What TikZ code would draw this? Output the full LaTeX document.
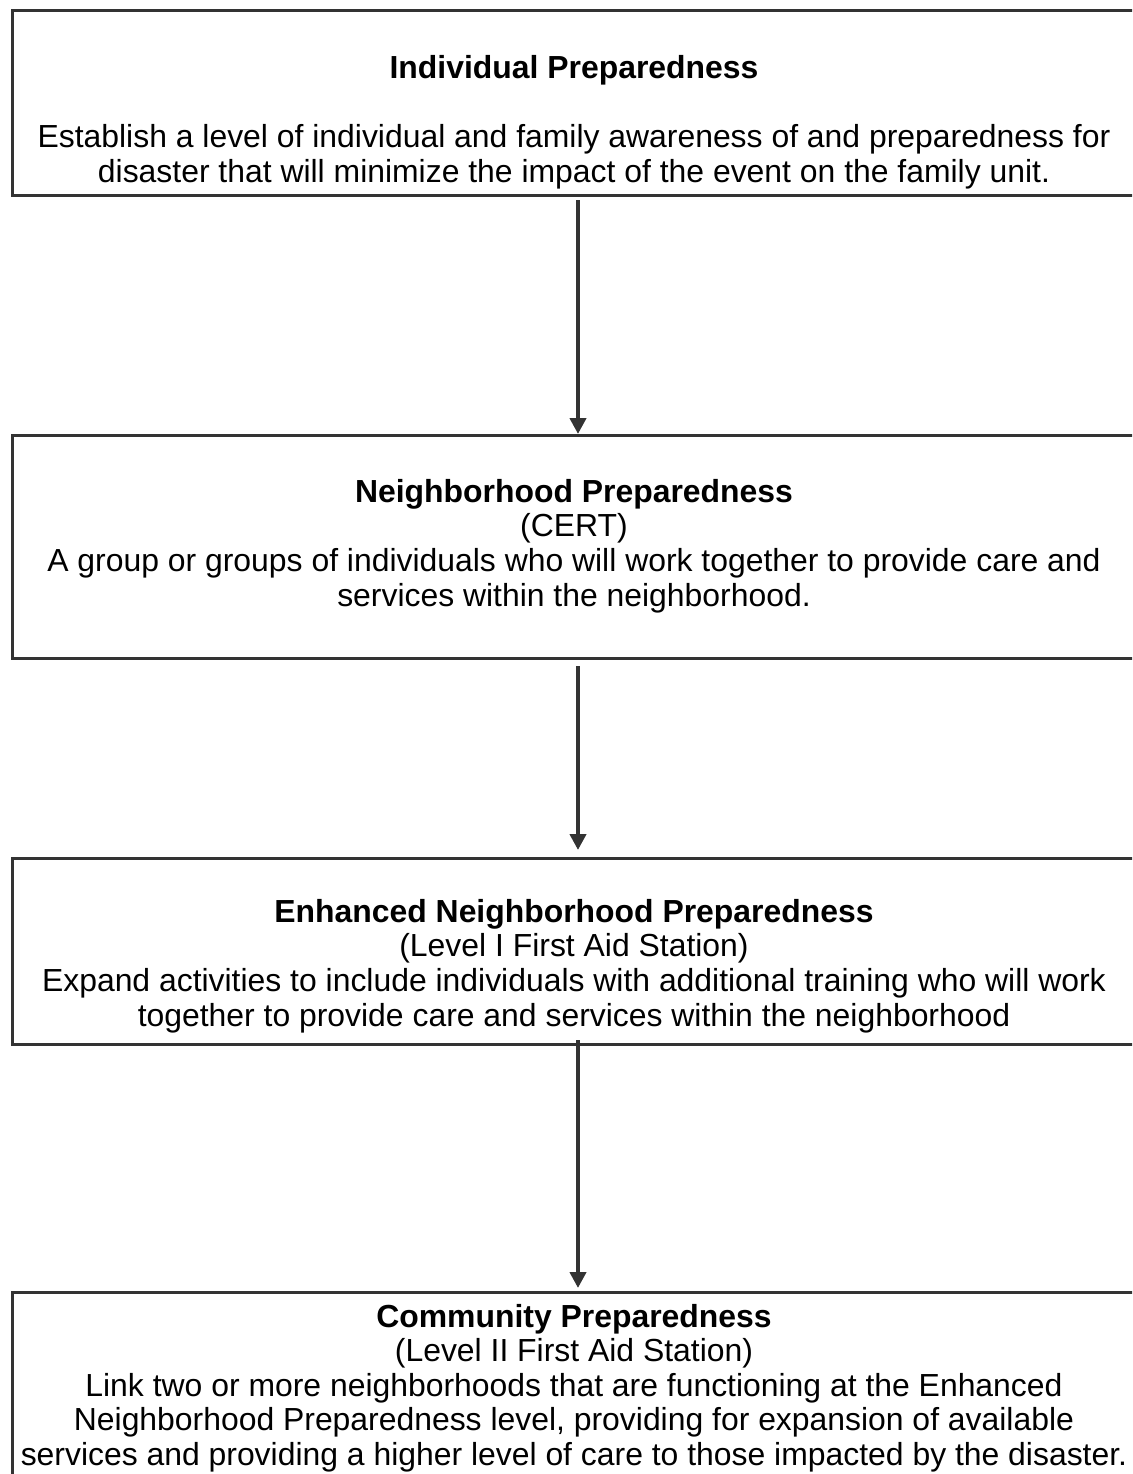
\documentclass[tikz,border=0pt]{standalone}
\usepackage{fontspec}
\setmainfont{Liberation Sans}
\usepackage{xcolor}
\usetikzlibrary{arrows.meta}
\definecolor{linegray}{HTML}{333333}

\begin{document}
\begin{tikzpicture}[x=0.5pt,y=-0.5pt,
  stagebox/.style={draw=linegray,line width=1.5pt,anchor=north west,inner sep=0pt,minimum width=563.5pt},
  stagetext/.style={align=center,inner sep=0pt,font=\fontsize{15.95}{17.3}\selectfont},
  flow/.style={draw=linegray,line width=2pt,-{Triangle[length=8pt,width=8pt]}}]
\useasboundingbox (0,0) rectangle (1132,1474);
\clip (0,0) rectangle (1132,1474);
\node[stagebox,minimum height=92.5pt] (ind) at (11,9) {};
\node[stagebox,minimum height=111.5pt] (nbr) at (11,434) {};
\node[stagebox,minimum height=93pt] (enh) at (11,857) {};
\node[stagebox,minimum height=94.5pt] (com) at (11,1291) {};
\node[stagetext] (indtxt) at (574,122) {\textbf{Individual Preparedness}\\[17.3pt]
  Establish a level of individual and family awareness of and preparedness for\\
  disaster that will minimize the impact of the event on the family unit.};
\node[stagetext] (nbrtxt) at (574,546) {\textbf{Neighborhood Preparedness}\\
  (CERT)\\
  A group or groups of individuals who will work together to provide care and\\
  services within the neighborhood.};
\node[stagetext] (enhtxt) at (574,966) {\textbf{Enhanced Neighborhood Preparedness}\\
  (Level I First Aid Station)\\
  Expand activities to include individuals with additional training who will work\\
  together to provide care and services within the neighborhood};
\node[stagetext] (comtxt) at (574,1388) {\textbf{Community Preparedness}\\
  (Level II First Aid Station)\\
  Link two or more neighborhoods that are functioning at the Enhanced\\
  Neighborhood Preparedness level, providing for expansion of available\\
  services and providing a higher level of care to those impacted by the disaster.};
\draw[flow,shorten <=1.5pt] ([xshift=1pt]ind.south) -- ([xshift=1pt]nbr.north);
\draw[flow,shorten <=3pt,shorten >=3.5pt] ([xshift=1pt]nbr.south) -- ([xshift=1pt]enh.north);
\draw[flow] ([xshift=1pt,yshift=3pt]enh.south) -- ([xshift=1pt,yshift=1.5pt]com.north);
\end{tikzpicture}
\end{document}
